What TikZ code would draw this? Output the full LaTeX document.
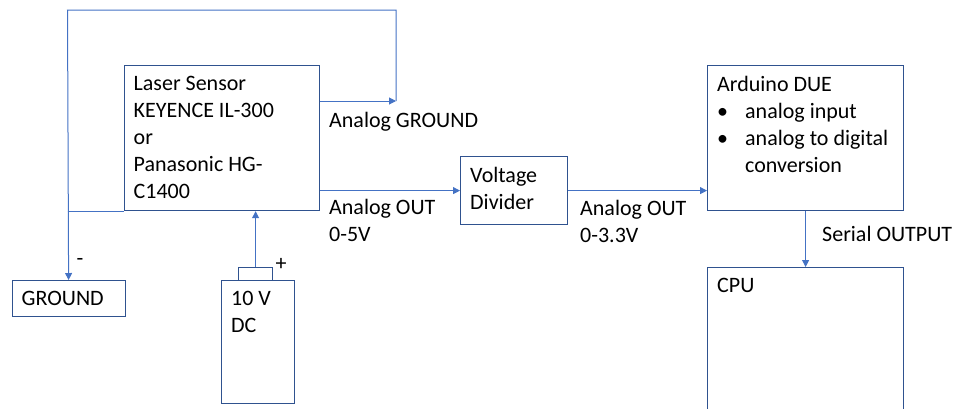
\documentclass[tikz,border=0pt]{standalone}
\usepackage{fontspec}
\setmainfont{Carlito}
\usepackage{tikz}
\usetikzlibrary{arrows.meta,positioning}
\definecolor{boxblue}{HTML}{2F528F}
\definecolor{lineblue}{HTML}{4472C4}

\begin{document}
\begin{tikzpicture}[
    x=1pt, y=-1pt,
    font=\fontsize{22}{27}\selectfont,
    block/.style={rectangle, draw=boxblue, line width=1.2pt, anchor=north west, inner sep=0pt},
    inner/.style={anchor=north west, align=left, inner xsep=10pt, inner ysep=11pt},
    tag/.style={anchor=north west, align=left, inner sep=0pt},
    arrow/.style={-{Triangle[length=7pt,width=7pt]}, draw=lineblue, line width=1pt},
    wire/.style={draw=lineblue, line width=1pt}
]
\useasboundingbox (0,0) rectangle (958,408);

% Blocks
\node[block, minimum width=195, minimum height=145, label={[inner]north west:{Laser Sensor\\KEYENCE IL-300\\or\\Panasonic HG-\\C1400}}] (sensor) at (123.5,65) {};
\node[block, minimum width=107, minimum height=68, label={[inner]north west:{Voltage\\Divider}}] (divider) at (460,156) {};
\node[block, minimum width=196, minimum height=145, label={[inner]north west:{Arduino DUE\\\makebox[28pt][l]{•}analog input\\\makebox[28pt][l]{•}analog to digital\\\hspace*{28pt}conversion}}] (arduino) at (707,65) {};
\node[block, minimum width=196, minimum height=160, label={[inner]north west:{CPU}}] (cpu) at (707,267) {};
\node[block, minimum width=113, minimum height=36, label={[inner]north west:{GROUND}}] (ground) at (11.5,280) {};
\node[block, minimum width=73, minimum height=123, label={[inner]north west:{10 V\\DC}}] (dc) at (221,280) {};
\node[block, minimum width=34, minimum height=13] (cap) at (238,267) {};

% Labels
\node[tag] (agndtext) at (329,112) {Analog GROUND};
\node[tag] (out5) at (329,199) {Analog OUT\\0-5V};
\node[tag] (out33) at (580,200) {Analog OUT\\0-3.3V};
\node[tag] (serial) at (822,226) {Serial OUTPUT};
\node (minus) at (80,262) {-};
\node (plus) at (281,264) {+};

% Ground loop
\coordinate (agnd) at (396,101);
\coordinate (topR) at (396,10);
\coordinate (topL) at (67.5,10);
\draw[arrow] (sensor.east |- agnd) -- (agnd);
\draw[arrow] (agnd) -- (topR) -- (topL) -- (ground.north);
\draw[wire] (topL |- sensor.south) -- (sensor.south west);

% Signal path
\draw[arrow] (cap.north) -- (cap.north |- sensor.south);
\draw[arrow] (sensor.east |- divider.west) -- (divider.west);
\draw[arrow] (divider.east) -- (divider.east -| arduino.west);
\draw[arrow] (arduino.south) -- (cpu.north);

\end{tikzpicture}
\end{document}
